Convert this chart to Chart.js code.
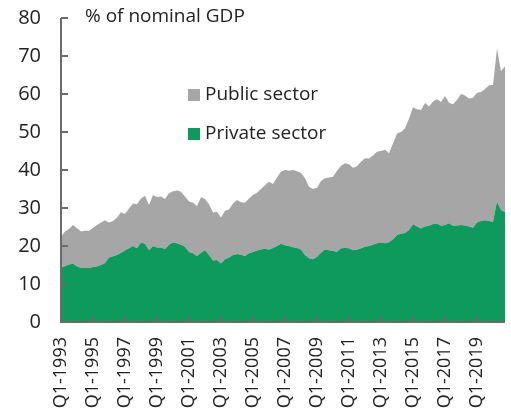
<!DOCTYPE html>
<html>
<head>
<meta charset="utf-8">
<script src="https://cdn.jsdelivr.net/npm/chart.js@4.4.0/dist/chart.umd.min.js"></script>
<style>
  html, body { margin: 0; padding: 0; background: #ffffff; }
  #wrap { width: 511px; height: 414px; position: relative; }
</style>
</head>
<body>
<div id="wrap"><canvas id="c" width="511" height="414"></canvas></div>
<script>
// ---- Data (quarterly, Q1-1993 .. Q4-2020), % of nominal GDP ----
const startYear = 1993;
const nQuarters = 112;
const tickLabels = ['Q1-1993','Q1-1995','Q1-1997','Q1-1999','Q1-2001','Q1-2003','Q1-2005',
                    'Q1-2007','Q1-2009','Q1-2011','Q1-2013','Q1-2015','Q1-2017','Q1-2019'];
const seriesNames = ['Public sector', 'Private sector'];
const yTicks = [0, 10, 20, 30, 40, 50, 60, 70, 80];
const yTitle = '% of nominal GDP';

const privateSector = [
  14.4,14.7,15.1,15.3,14.7,14.2,14.3,14.2,14.5,14.6,15.0,15.5,17.0,17.3,17.6,18.2,
  18.8,19.4,20.0,19.4,20.9,20.6,18.9,20.0,19.6,19.6,19.2,20.3,20.9,20.7,20.3,19.8,
  18.4,18.1,17.3,18.2,18.9,17.6,16.2,16.3,15.4,16.5,17.0,17.6,17.9,17.7,17.4,18.1,
  18.4,18.8,19.1,19.3,19.0,19.5,20.0,20.6,20.2,20.0,19.7,19.5,19.1,17.6,16.8,16.5,
  17.2,18.2,19.1,18.9,18.7,18.5,19.4,19.5,19.4,18.9,19.0,19.4,19.8,20.0,20.3,20.7,
  20.9,20.7,21.0,21.8,22.9,23.2,23.4,24.2,25.7,25.1,24.6,25.1,25.3,25.8,25.9,25.3,
  25.5,26.0,25.3,25.4,25.5,25.4,25.1,24.8,26.2,26.6,26.8,26.6,26.4,31.7,29.5,28.9
];
const publicSector = [
   8.0, 9.1, 9.4,10.2,10.0, 9.6, 9.7, 9.8,10.3,10.9,11.2,11.3, 9.2, 9.3, 9.9,10.7,
   9.6,10.5,11.2,11.6,11.6,12.6,11.9,13.4,13.3,13.4,13.2,13.6,13.5,13.9,14.0,13.2,
  13.3,13.3,13.2,14.6,13.5,13.4,12.6,12.7,12.1,12.8,12.6,13.6,14.2,13.8,14.0,14.4,
  15.0,15.2,15.9,16.7,17.9,16.8,18.0,19.0,19.8,19.8,20.3,20.2,20.1,20.2,18.8,18.5,
  18.1,18.9,18.7,19.1,19.5,21.3,21.7,22.3,22.1,21.7,22.0,22.8,23.3,23.0,23.5,24.1,
  24.1,24.6,23.4,25.2,26.7,26.8,27.6,29.3,30.8,30.9,31.2,32.5,31.4,32.2,32.7,32.6,
  34.0,31.7,32.0,33.0,34.5,34.2,33.7,34.2,34.1,33.9,34.5,35.7,36.0,40.3,36.5,38.4
];

const categories = [];
for (let i = 0; i < nQuarters; i++) {
  categories.push('Q' + (i % 4 + 1) + '-' + (startYear + Math.floor(i / 4)));
}

const COLORS = { public: '#a6a6a6', private: '#0f9a5d', axis: '#6b6b6b', text: '#222222' };
const FONT = '"Open Sans", "Noto Sans", sans-serif';

const overlay = {
  id: 'overlay',
  afterDatasetsDraw(chart) {
    const ctx = chart.ctx;
    const x = chart.scales.x, y = chart.scales.y;
    const a = chart.chartArea;
    ctx.save();
    ctx.strokeStyle = COLORS.axis;
    ctx.lineWidth = 2;
    ctx.beginPath();
    ctx.moveTo(a.left, y.getPixelForValue(80));
    ctx.lineTo(a.left, a.bottom);
    ctx.lineTo(a.right, a.bottom);
    ctx.stroke();
    yTicks.forEach(v => {
      const py = y.getPixelForValue(v);
      ctx.beginPath();
      ctx.moveTo(a.left, py);
      ctx.lineTo(a.left + 7, py);
      ctx.stroke();
    });
    categories.forEach((c, i) => {
      if (tickLabels.indexOf(c) >= 0 && i > 0) {
        const px = x.getPixelForValue(i);
        ctx.beginPath();
        ctx.moveTo(px, a.bottom);
        ctx.lineTo(px, a.bottom - 6);
        ctx.stroke();
      }
    });
    ctx.fillStyle = COLORS.text;
    ctx.font = '19px ' + FONT;
    ctx.textBaseline = 'middle';
    ctx.textAlign = 'left';
    ctx.fillText(yTitle, a.left + 24, 17);
    const items = [
      { label: seriesNames[0], color: COLORS.public, cy: 95 },
      { label: seriesNames[1], color: COLORS.private, cy: 134 }
    ];
    items.forEach(it => {
      ctx.fillStyle = it.color;
      ctx.fillRect(188, it.cy - 6, 12, 12);
      ctx.fillStyle = COLORS.text;
      ctx.fillText(it.label, 205, it.cy);
    });
    ctx.restore();
  }
};

new Chart(document.getElementById('c'), {
  type: 'line',
  data: {
    labels: categories,
    datasets: [
      { label: seriesNames[1], data: privateSector, backgroundColor: COLORS.private,
        borderWidth: 0, pointRadius: 0, fill: 'origin', tension: 0 },
      { label: seriesNames[0], data: publicSector, backgroundColor: COLORS.public,
        borderWidth: 0, pointRadius: 0, fill: '-1', tension: 0 }
    ]
  },
  options: {
    responsive: false,
    animation: false,
    devicePixelRatio: 1,
    layout: { padding: { top: 18, right: 6, left: 0, bottom: 0 } },
    plugins: { legend: { display: false }, tooltip: { enabled: false }, title: { display: false } },
    scales: {
      x: {
        type: 'category',
        offset: false,
        grid: { display: false, drawTicks: false },
        border: { display: false },
        afterFit(s) { s.height = 92; s.paddingLeft = 0; s.paddingRight = 0; },
        ticks: {
          autoSkip: false, maxRotation: 90, minRotation: 90, padding: 15,
          color: COLORS.text, font: { family: FONT, size: 18 },
          callback(v, i) { const c = categories[i]; return tickLabels.indexOf(c) >= 0 ? c : ''; }
        }
      },
      y: {
        stacked: true,
        min: 0, max: 80,
        grid: { display: false, drawTicks: false },
        border: { display: false },
        afterFit(s) { s.width = 61; s.paddingTop = 0; s.paddingBottom = 0; },
        ticks: { stepSize: 10, padding: 20, color: COLORS.text, font: { family: FONT, size: 20 } }
      }
    }
  },
  plugins: [overlay]
});
</script>
</body>
</html>
